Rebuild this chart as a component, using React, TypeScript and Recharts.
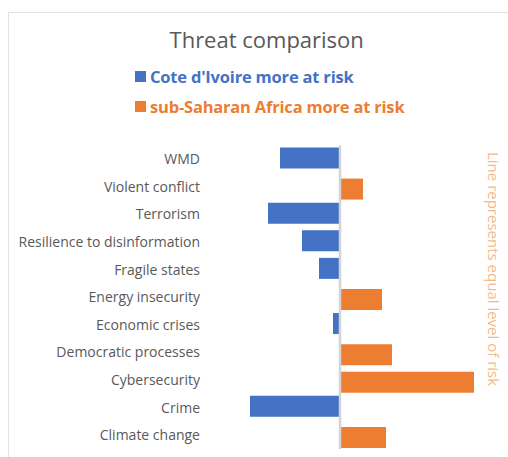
import { Bar, BarChart, Legend, ReferenceLine, XAxis, YAxis } from "recharts";

const categories = [
  "WMD",
  "Violent conflict",
  "Terrorism",
  "Resilience to disinformation",
  "Fragile states",
  "Energy insecurity",
  "Economic crises",
  "Democratic processes",
  "Cybersecurity",
  "Crime",
  "Climate change",
];

// negative = Cote d'Ivoire more at risk, positive = sub-Saharan Africa more at risk
const coteMoreAtRisk = [-6.0, null, -7.2, -3.8, -2.1, null, -0.7, null, null, -9.0, null];
const ssaMoreAtRisk = [null, 2.3, null, null, null, 4.2, null, 5.2, 13.4, null, 4.6];

const seriesNames = ["Cote d'Ivoire more at risk", "sub-Saharan Africa more at risk"];

const BLUE = "#4472C4";
const ORANGE = "#ED7D31";
const TEXT = "#595959";
const FONT = "'Open Sans', sans-serif";

const rows = categories.map((name, i) => ({
  name,
  cote: coteMoreAtRisk[i],
  ssa: ssaMoreAtRisk[i],
}));

function LegendBox({ payload }: any) {
  return (
    <div style={{ fontFamily: FONT }}>
      {(payload ?? []).map((p: any) => (
        <div
          key={p.value}
          style={{ display: "flex", alignItems: "center", height: 30 }}
        >
          <span
            style={{
              width: 11,
              height: 11,
              background: p.color,
              display: "inline-block",
              marginRight: 4,
              flexShrink: 0,
            }}
          />
          <span
            style={{
              color: p.color,
              fontWeight: 700,
              fontSize: 16.5,
              letterSpacing: -0.2,
              whiteSpace: "nowrap",
            }}
          >
            {p.value}
          </span>
        </div>
      ))}
    </div>
  );
}

export default function App() {
  return (
    <div
      style={{
        position: "absolute",
        left: 8,
        top: 12,
        width: 500,
        height: 445,
        boxSizing: "border-box",
        borderTop: "1px solid #e3e3e3",
        borderLeft: "1px solid #e3e3e3",
        overflow: "hidden",
        background: "#fff",
        fontFamily: FONT,
      }}
    >
      <div
        style={{
          position: "absolute",
          left: 57.7,
          width: 400,
          top: 15,
          textAlign: "center",
          fontSize: 22,
          lineHeight: "22px",
          color: TEXT,
        }}
      >
        Threat comparison
      </div>
      <div
        style={{
          position: "absolute",
          left: 476,
          top: 139,
          writingMode: "vertical-rl",
          fontSize: 15,
          lineHeight: "18px",
          color: "#F5B98C",
          whiteSpace: "nowrap",
        }}
      >
        Line represents equal level of risk
      </div>
      <BarChart
        width={499}
        height={444}
        data={rows}
        layout="vertical"
        barSize={21}
        barGap={-17.5}
        margin={{ top: 132.5, right: 28, bottom: 8, left: 0 }}
      >
        <XAxis type="number" domain={[-9, 14]} hide />
        <YAxis
          type="category"
          dataKey="name"
          width={241}
          axisLine={false}
          tickLine={false}
          tickSize={0}
          tickMargin={50}
          interval={0}
          tick={{ fontSize: 14, fill: TEXT, fontFamily: FONT }}
        />
        <Legend
          layout="vertical"
          align="center"
          verticalAlign="middle"
          content={<LegendBox />}
          wrapperStyle={{ top: 48.5, left: 126, width: 370 }}
        />
        <Bar dataKey="cote" name={seriesNames[0]} fill={BLUE} isAnimationActive={false} />
        <Bar dataKey="ssa" name={seriesNames[1]} fill={ORANGE} isAnimationActive={false} />
        <ReferenceLine x={0} stroke="#d4d4d4" strokeWidth={2.5} />
      </BarChart>
    </div>
  );
}
